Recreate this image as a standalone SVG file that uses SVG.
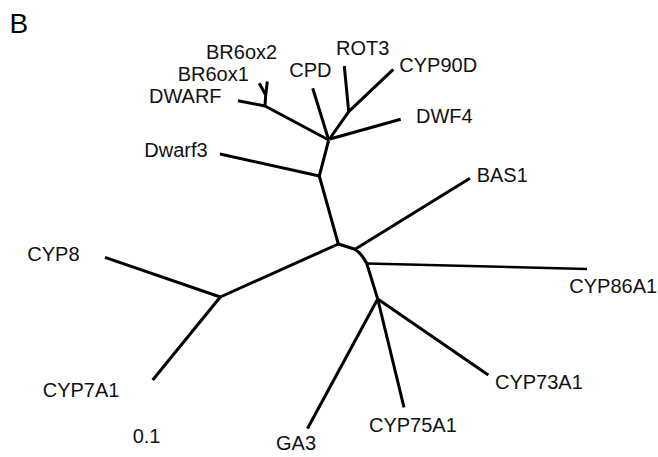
<svg xmlns="http://www.w3.org/2000/svg" width="658" height="457" viewBox="0 0 658 457">
  <style>
    .edge { fill: none; stroke: #000; stroke-width: 3; stroke-linecap: butt; stroke-linejoin: round; }
    .thin { stroke-width: 2.5; }
    .lbl { font-family: "Liberation Sans", Arial, sans-serif; font-size: 20px; fill: #111; }
    .panel { font-family: "Liberation Sans", Arial, sans-serif; font-size: 28px; fill: #000; }
  </style>
  <rect width="658" height="457" fill="#fff"/>

  <text class="panel" x="9.5" y="32.7">B</text>

  <!-- tree branches -->
  <g id="connectors">
    <!-- upper clade -->
    <path class="edge" d="M338.3,244 L319.3,176 L328.7,140"/>
    <path class="edge" d="M319.3,176 L220,154"/>
    <path class="edge" d="M328.7,140 L265,106 L238,100.7"/>
    <path class="edge" d="M265,106 L265.7,95 L259.3,83.3"/>
    <path class="edge" d="M265.7,95 L267.3,81.5"/>
    <path class="edge" d="M328.7,140 L312.7,88.3"/>
    <path class="edge" d="M329.5,139 L348.7,111.7 L393.3,69.3"/>
    <path class="edge" d="M348.7,111.7 L344.3,66"/>
    <path class="edge" d="M330,139 L400.7,119.3"/>
    <!-- CYP8 / CYP7A1 -->
    <path class="edge" d="M338.3,244 L220.3,297 L105,257.3"/>
    <path class="edge" d="M220.3,297 L152.7,380"/>
    <!-- right clade -->
    <path class="edge" d="M338.3,244 L355,249.3 L470,178.3"/>
    <path class="edge" d="M355,249.3 Q362,254 366.7,263.3 L377.7,299"/>
    <path class="edge thin" d="M366.7,263.5 L587,269"/>
    <path class="edge" d="M377.7,299 L307.5,428.5"/>
    <path class="edge" d="M377.7,299 L404,407.3"/>
    <path class="edge" d="M377.7,299 L488.3,375"/>
  </g>

  <g id="BR6ox2"><text class="lbl" x="206" y="59.3">BR6ox2</text></g>
  <g id="BR6ox1"><text class="lbl" x="177.7" y="81">BR6ox1</text></g>
  <g id="DWARF"><text class="lbl" x="149" y="103.3">DWARF</text></g>
  <g id="CPD"><text class="lbl" x="289.3" y="76.7">CPD</text></g>
  <g id="ROT3"><text class="lbl" x="336" y="55">ROT3</text></g>
  <g id="CYP90D"><text class="lbl" x="399.3" y="71.7">CYP90D</text></g>
  <g id="DWF4"><text class="lbl" x="416" y="122.7">DWF4</text></g>
  <g id="Dwarf3"><text class="lbl" x="144.3" y="156.7">Dwarf3</text></g>
  <g id="BAS1"><text class="lbl" x="476.7" y="181.7">BAS1</text></g>
  <g id="CYP8"><text class="lbl" x="27.3" y="260.7">CYP8</text></g>
  <g id="CYP86A1"><text class="lbl" x="569.3" y="293.3">CYP86A1</text></g>
  <g id="CYP7A1"><text class="lbl" x="42.7" y="397.3">CYP7A1</text></g>
  <g id="CYP73A1"><text class="lbl" x="495" y="389.3">CYP73A1</text></g>
  <g id="CYP75A1"><text class="lbl" x="369" y="431.7">CYP75A1</text></g>
  <g id="GA3"><text class="lbl" x="276" y="450">GA3</text></g>
  <g id="scale"><text class="lbl" x="132.7" y="442.7">0.1</text></g>
</svg>
